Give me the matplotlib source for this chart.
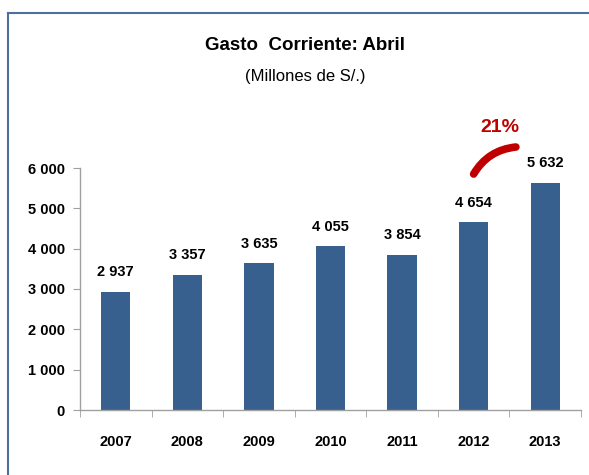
import matplotlib
matplotlib.use("Agg")
import matplotlib.pyplot as plt
from matplotlib.path import Path
from matplotlib.patches import PathPatch
from matplotlib.lines import Line2D

years = ["2007", "2008", "2009", "2010", "2011", "2012", "2013"]
values = [2937, 3357, 3635, 4055, 3854, 4654, 5632]
yticks = [0, 1000, 2000, 3000, 4000, 5000, 6000]
ytick_labels = ["0", "1 000", "2 000", "3 000", "4 000", "5 000", "6 000"]
growth_label = "21%"

FONT = ["Liberation Sans Narrow", "Liberation Sans", "DejaVu Sans"]
plt.rcParams["font.family"] = FONT

fig = plt.figure(figsize=(5.89, 4.75), dpi=100)
ax = fig.add_axes([80/589, 1-410/475, 501/589, (410-168)/475])

bar_color = "#37608F"
x = list(range(len(years)))
ax.bar(x, values, width=0.41, color=bar_color, zorder=2)
ax.set_xlim(-0.5, len(years) - 0.5)
ax.set_ylim(0, 6000)

for xi, v in zip(x, values):
    lab = f"{v:,}".replace(",", " ")
    ax.annotate(lab, (xi, v), xytext=(0, 14), textcoords="offset points",
                ha="center", va="center", fontsize=10.5, fontweight="bold",
                color="black", annotation_clip=False)

ax.set_yticks(yticks)
ax.set_yticklabels(ytick_labels, fontsize=10.5, fontweight="bold")
ax.set_xticks(x)
ax.set_xticklabels(years, fontsize=10.5, fontweight="bold")
ax.set_xticks([i - 0.5 for i in range(len(years) + 1)], minor=True)
ax.tick_params(axis="x", which="major", length=0, pad=18)
ax.tick_params(axis="x", which="minor", length=5, color="#A0A0A0", direction="out")
ax.tick_params(axis="y", length=5, color="#A0A0A0", direction="out", pad=6)
for s in ["top", "right"]:
    ax.spines[s].set_visible(False)
for s in ["left", "bottom"]:
    ax.spines[s].set_color("#A0A0A0")
    ax.spines[s].set_linewidth(1.0)

# growth arc
verts = [(5.0, 5850), (5.2, 6450), (5.59, 6520)]
path = Path(verts, [Path.MOVETO, Path.CURVE3, Path.CURVE3])
ax.add_patch(PathPatch(path, facecolor="none", edgecolor="#C00000", lw=5.5,
                       capstyle="round", clip_on=False, zorder=3))
ax.text(5.37, 7000, growth_label, ha="center", va="center", fontsize=14,
        fontweight="bold", color="#C00000", clip_on=False)

# titles
fig.text(305/589, 1-46/475, "Gasto  Corriente: Abril", ha="center", va="center",
         fontsize=13.5, fontweight="bold", color="black")
fig.text(305/589, 1-77/475, "(Millones de S/.)", ha="center", va="center",
         fontsize=12, color="black")

# frame
fig.add_artist(Line2D([8/589, 1.0], [1-13/475, 1-13/475], transform=fig.transFigure,
                      color="#4F6FA0", lw=1.5))
fig.add_artist(Line2D([8/589, 8/589], [0, 1-13/475], transform=fig.transFigure,
                      color="#4F6FA0", lw=1.5))

fig.savefig("out.png", dpi=100)
